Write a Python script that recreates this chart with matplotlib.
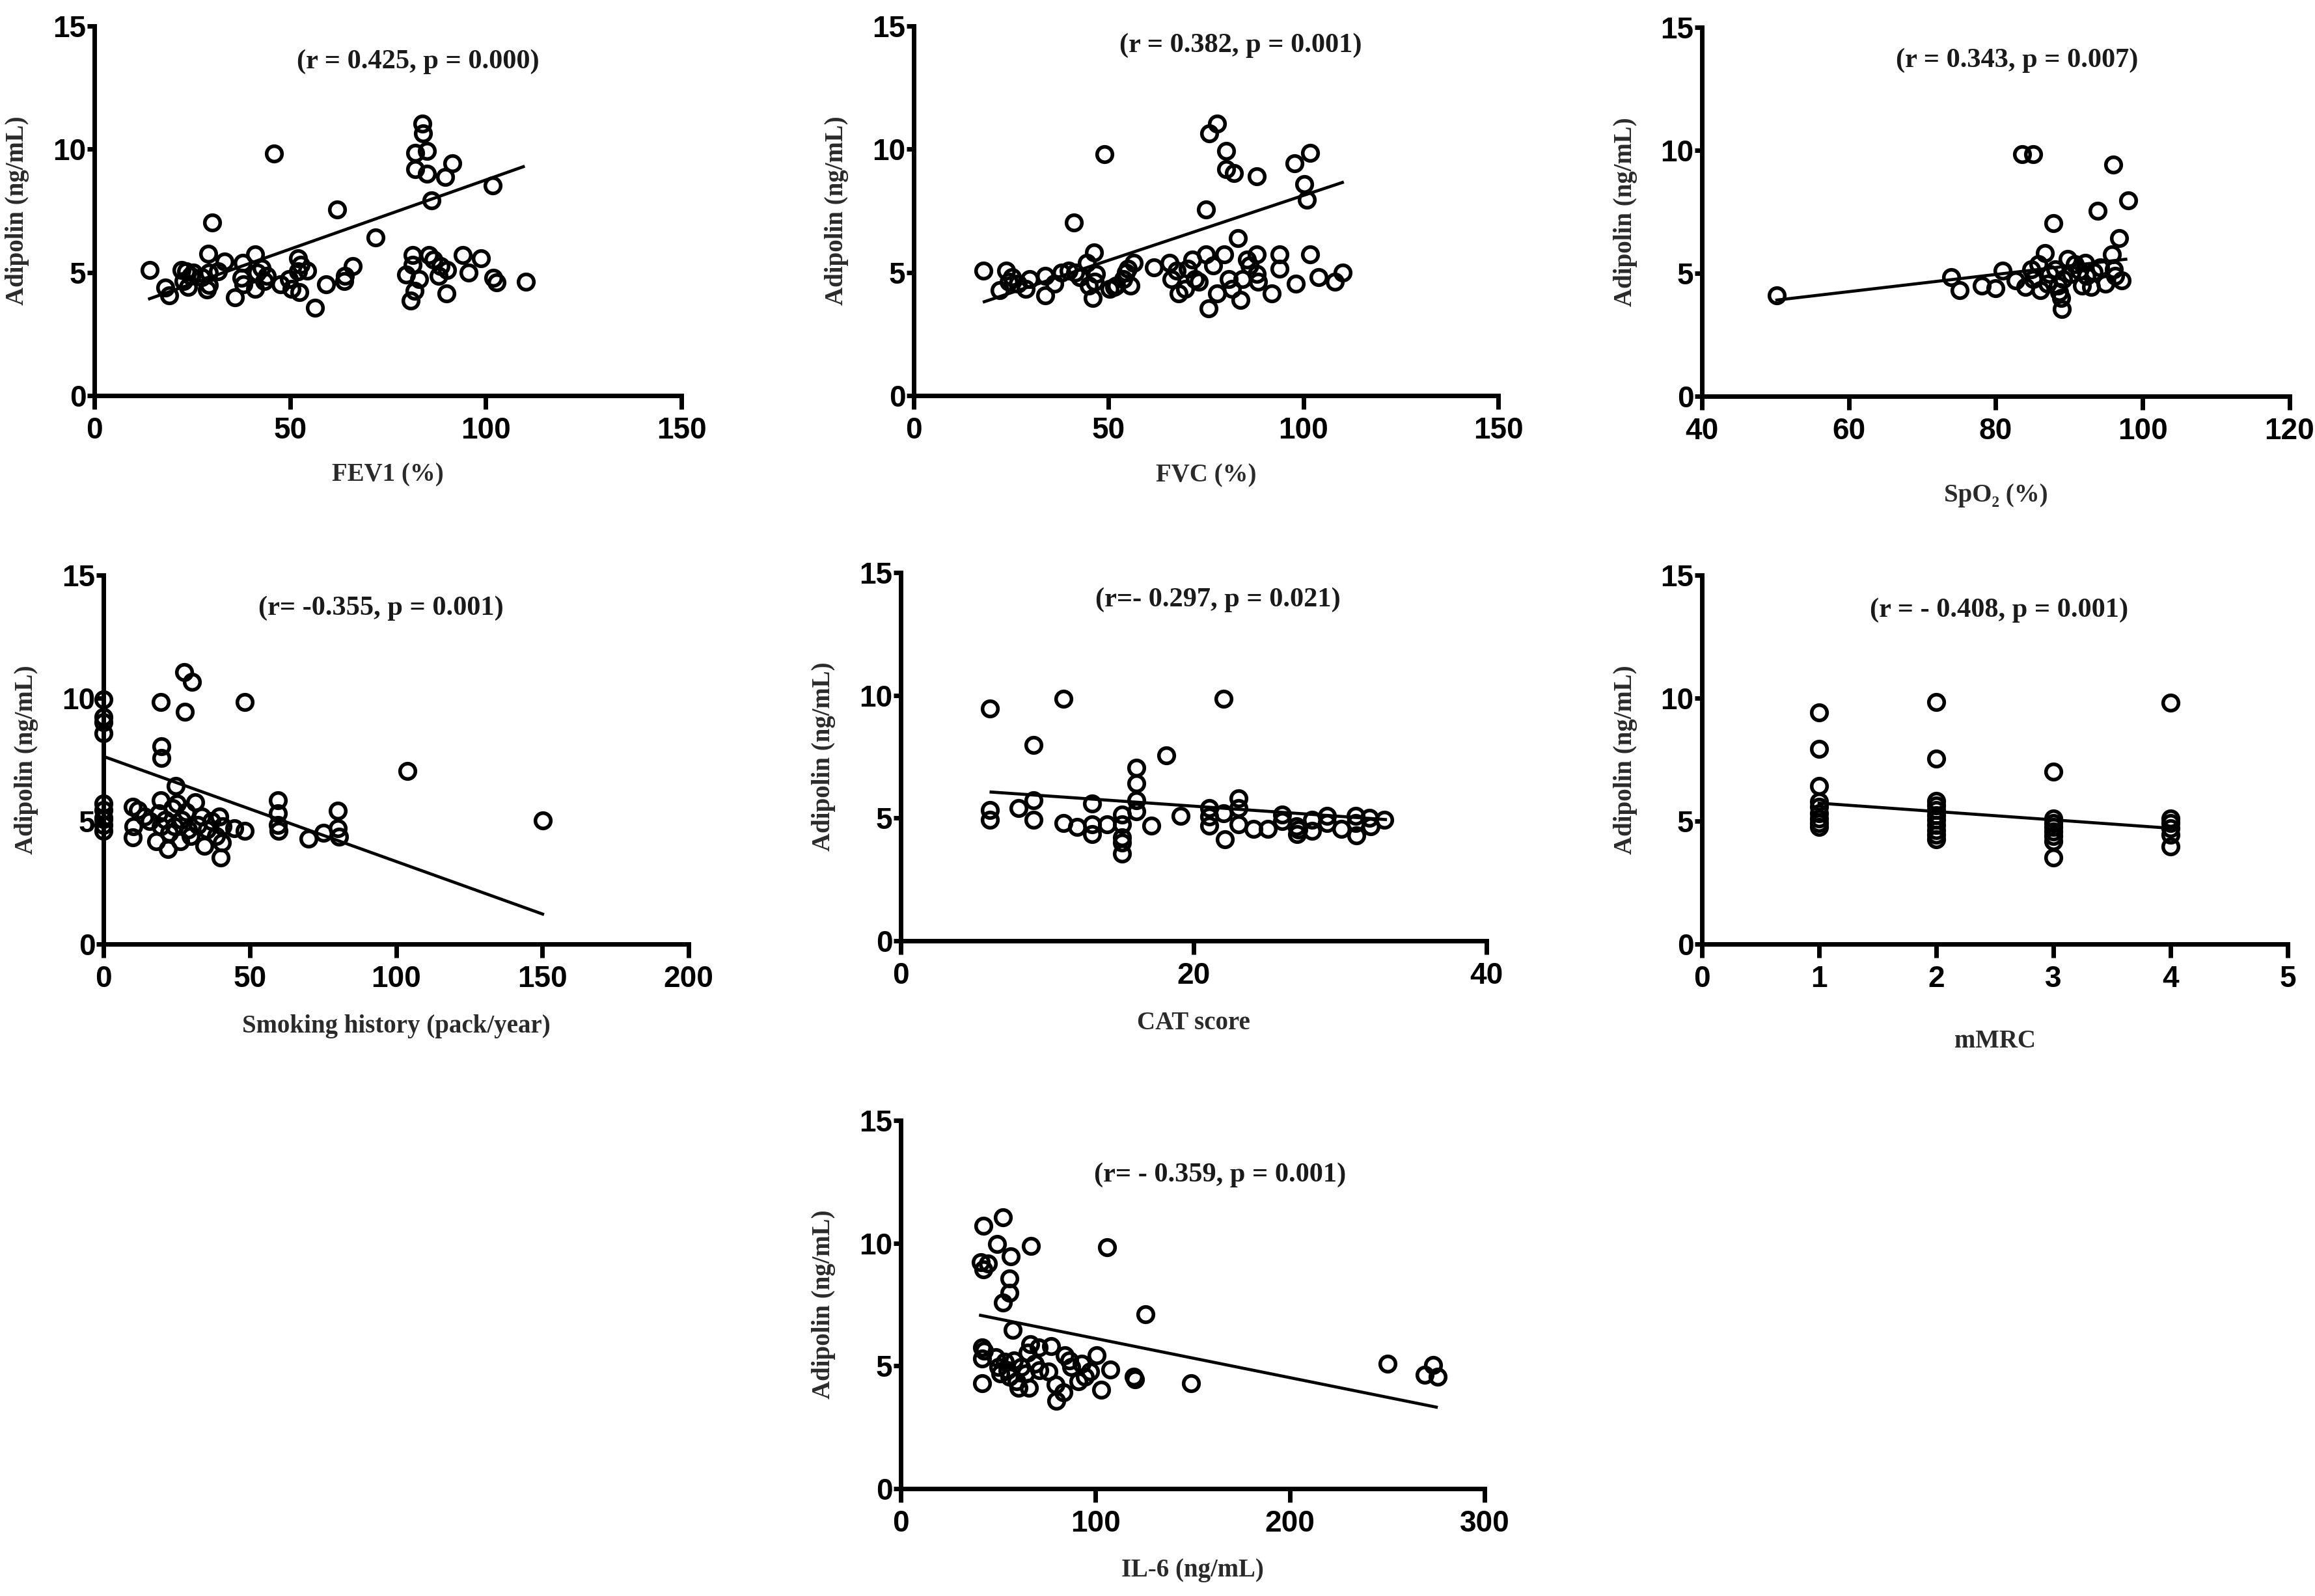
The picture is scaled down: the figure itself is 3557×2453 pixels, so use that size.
import matplotlib
matplotlib.use("Agg")
import matplotlib.pyplot as plt

# ---- data (x, adipolin ng/mL) ----
fev1_x = [14.1, 18.2, 19.1, 22.3, 23.4, 24.6, 24.0, 22.8, 25.2, 27.5, 28.7, 29.3, 29.3, 29.1, 30.1,
          31.6, 33.2, 36.0, 37.9, 37.5, 38.1, 41.0, 41.0, 41.6, 42.8, 43.4, 44.0, 45.9, 47.5, 49.8,
          50.4, 52.1, 52.1, 52.4, 52.7, 54.3, 56.4, 59.2, 62.1, 63.9, 64.1, 66.0, 71.8, 79.7, 80.9,
          81.4, 81.4, 81.8, 82.0, 82.0, 82.9, 83.8, 84.0, 85.0, 85.0, 85.5, 86.1, 86.7, 88.0, 88.5,
          89.6, 89.9, 90.2, 91.4, 94.1, 95.7, 98.8, 101.7, 102.0, 102.8, 110.2]
fev1_y = [5.11, 4.39, 4.06, 5.10, 5.05, 4.85, 4.40, 4.65, 5.00, 4.80, 4.30, 4.50, 5.00, 5.77, 7.03,
          5.05, 5.45, 4.00, 5.38, 4.78, 4.52, 5.73, 4.32, 4.98, 5.18, 4.65, 4.85, 9.82, 4.52, 4.72,
          4.32, 5.58, 5.05, 4.19, 5.31, 5.07, 3.56, 4.52, 7.55, 4.65, 4.85, 5.25, 6.43, 4.92, 3.86,
          5.71, 5.31, 4.26, 9.86, 9.20, 4.72, 11.04, 10.65, 9.92, 9.00, 5.71, 7.92, 5.51, 4.85, 5.25,
          8.87, 4.15, 5.11, 9.44, 5.71, 4.98, 5.58, 8.54, 4.78, 4.59, 4.63]
fev1_fit = ([14.1, 109.6], [3.93, 9.29])

fvc_x = [17.9, 22.0, 23.8, 24.4, 25.2, 26.7, 28.7, 29.7, 33.8, 33.8, 36.1, 37.9, 39.7, 41.1, 41.4,
         42.6, 44.4, 45.0, 45.9, 46.2, 46.4, 46.7, 48.9, 50.3, 51.5, 52.0, 53.8, 54.4, 55.0, 55.6,
         56.4, 61.7, 65.6, 66.2, 67.4, 68.0, 69.7, 70.3, 71.5, 72.1, 73.2, 75.0, 75.0, 75.6, 75.8,
         77.9, 76.8, 77.9, 79.7, 80.1, 80.1, 80.9, 81.7, 82.1, 83.2, 83.8, 84.4, 85.6, 86.2, 88.0,
         88.0, 88.0, 88.3, 91.8, 93.8, 93.8, 97.7, 98.0, 100.3, 100.9, 101.7, 101.7, 103.9, 108.0, 110.0]
fvc_y = [5.07, 4.28, 5.07, 4.61, 4.81, 4.54, 4.34, 4.74, 4.87, 4.08, 4.54, 5.00, 5.07, 7.02, 5.00,
         4.81, 5.40, 4.47, 3.95, 5.80, 4.61, 4.94, 9.80, 4.34, 4.41, 4.47, 4.74, 5.00, 5.14, 4.47,
         5.38, 5.20, 5.40, 4.74, 5.07, 4.14, 4.34, 5.14, 5.53, 4.74, 4.61, 5.73, 7.55, 3.55, 10.63,
         11.03, 5.27, 4.14, 5.73, 9.93, 9.18, 4.74, 4.34, 9.04, 6.39, 3.88, 4.74, 5.53, 5.27, 8.91,
         5.73, 4.94, 4.61, 4.14, 5.73, 5.14, 9.44, 4.54, 8.58, 7.94, 9.84, 5.73, 4.81, 4.61, 4.98]
fvc_fit = ([18.1, 110.0], [3.81, 8.65])

spo2_x = [50.2, 73.9, 75.1, 78.1, 80.0, 80.9, 82.7, 83.6, 85.1, 84.0, 84.8, 85.1, 85.8, 86.1, 86.7,
          87.0, 87.3, 87.8, 88.1, 88.5, 88.6, 88.9, 89.0, 89.2, 89.8, 90.2, 90.8, 91.4, 91.7, 92.2,
          92.4, 93.0, 93.3, 93.9, 94.2, 94.9, 95.8, 96.0, 96.1, 96.3, 96.8, 97.1, 98.0]
spo2_y = [4.11, 4.84, 4.31, 4.50, 4.40, 5.10, 4.70, 9.83, 9.83, 4.44, 5.17, 4.77, 5.37, 4.31, 5.83,
          4.57, 4.97, 7.05, 5.17, 4.50, 4.24, 4.00, 3.55, 4.77, 5.57, 4.97, 5.37, 5.10, 4.50, 5.43,
          4.90, 4.44, 5.04, 7.55, 5.23, 4.57, 5.76, 9.43, 5.17, 4.90, 6.43, 4.70, 7.95]
spo2_fit = ([50.2, 97.7], [3.91, 5.57])

smoke_x = [0, 0, 0, 0, 0, 0, 0, 0, 0, 0, 9.9, 10.2, 9.9, 11.8, 14.1, 15.7, 18.0, 18.8, 19.6, 19.6,
           19.6, 19.9, 19.9, 21.2, 22.0, 22.4, 23.5, 24.3, 24.6, 25.1, 26.2, 26.7, 27.5, 27.8, 30.3,
           28.2, 29.0, 29.8, 31.4, 32.2, 33.7, 34.5, 35.3, 36.9, 38.4, 39.7, 40.0, 40.5, 40.8, 44.7,
           48.2, 48.2, 59.6, 59.6, 59.6, 59.9, 70.1, 75.3, 80.0, 80.0, 80.5, 104.0, 150.1]
smoke_y = [9.95, 9.22, 9.02, 8.56, 5.71, 5.45, 5.12, 4.85, 4.59, 5.08, 5.58, 4.79, 4.33, 5.45, 5.19,
           4.99, 4.19, 5.32, 5.85, 4.79, 9.84, 8.03, 7.57, 5.05, 3.86, 4.52, 5.52, 4.79, 6.44, 5.71,
           4.19, 5.05, 11.07, 9.44, 10.67, 5.38, 4.66, 4.39, 5.78, 4.85, 5.19, 3.99, 4.66, 4.99, 4.39,
           5.19, 3.53, 4.13, 4.79, 4.72, 9.84, 4.59, 5.85, 5.32, 4.85, 4.59, 4.29, 4.52, 5.42, 4.72,
           4.37, 7.04, 5.03]
smoke_fit = ([0, 150.1], [7.63, 1.22])

cat_x = [6.08, 6.08, 6.08, 8.05, 9.08, 9.08, 9.08, 11.09, 11.09, 12.03, 13.06, 13.06, 13.06, 14.1,
         15.1, 15.1, 15.1, 15.1, 15.1, 16.1, 16.1, 16.1, 16.1, 17.13, 18.13, 19.1, 21.05, 21.05,
         21.05, 22.05, 22.05, 22.14, 23.08, 23.08, 23.08, 24.1, 25.05, 26.06, 26.06, 27.0, 27.06,
         27.15, 28.1, 28.1, 29.1, 29.1, 30.1, 31.07, 31.07, 31.1, 32.0, 32.07, 33.0]
cat_y = [9.47, 5.34, 4.94, 5.40, 7.98, 5.73, 4.94, 9.86, 4.81, 4.65, 5.60, 4.74, 4.34, 4.74,
         5.14, 4.74, 4.21, 4.01, 3.55, 7.06, 6.42, 5.73, 5.27, 4.70, 7.56, 5.10, 5.40, 5.07,
         4.70, 9.86, 5.20, 4.14, 5.80, 5.40, 4.74, 4.57, 4.57, 5.14, 4.87, 4.67, 4.34,
         4.54, 4.94, 4.47, 5.10, 4.81, 4.57, 5.10, 4.81, 4.30, 5.00, 4.67, 4.94]
cat_fit = ([6.17, 33.1], [6.06, 4.94])

mmrc_x = [1] * 9 + [2] * 11 + [3] * 8 + [4] * 6
mmrc_y = [9.42, 7.94, 6.42, 5.79, 5.57, 5.33, 5.11, 4.91, 4.75,
          9.85, 7.55, 5.83, 5.63, 5.44, 5.24, 5.04, 4.84, 4.64, 4.45, 4.27,
          7.02, 5.11, 4.91, 4.75, 4.58, 4.38, 4.18, 3.52,
          9.82, 5.11, 4.91, 4.71, 4.45, 3.98]
mmrc_fit = ([1, 4], [5.73, 4.71])

il6_x = [42.5, 52.4, 49.5, 67.0, 106.1, 41.3, 42.5, 44.8, 56.6, 55.9, 55.9, 52.4, 57.5, 125.9,
         41.7, 42.9, 41.7, 41.7, 48.8, 50.0, 51.2, 53.5, 54.7, 55.9, 58.3, 59.4, 60.6, 61.8, 64.2,
         65.3, 66.5, 66.0, 68.9, 70.8, 71.2, 77.1, 75.9, 79.5, 80.0, 83.5, 84.2, 86.6, 87.7, 91.3,
         92.9, 94.8, 97.2, 100.7, 103.1, 107.8, 119.6, 120.3, 149.1, 250.0, 269.3, 273.6, 275.9]
il6_y = [10.71, 11.06, 9.97, 9.88, 9.84, 9.23, 8.92, 9.16, 9.45, 8.57, 7.98, 7.59, 6.47, 7.09,
         5.75, 5.62, 5.29, 4.30, 5.35, 4.96, 4.70, 5.16, 4.83, 4.57, 5.22, 4.37, 4.11, 4.96, 4.70,
         5.55, 5.88, 4.11, 5.09, 5.75, 4.83, 5.81, 4.76, 4.24, 3.58, 3.91, 5.42, 5.22, 4.96, 4.37,
         5.09, 4.57, 4.76, 5.42, 4.04, 4.86, 4.57, 4.46, 4.30, 5.09, 4.63, 5.03, 4.57]
il6_fit = ([41.0, 275.2], [7.06, 3.32])

panels = [
    # x, y, fit, xlim, xticks, xlabel, note, rect (px), note pos, xlabel offset px
    (fev1_x, fev1_y, fev1_fit, (0, 150), [0, 50, 100, 150], "FEV1 (%)",
     "(r = 0.425, p = 0.000)", (145, 40, 902, 568), (0.551, 0.903), 122),
    (fvc_x, fvc_y, fvc_fit, (0, 150), [0, 50, 100, 150], "FVC (%)",
     "(r = 0.382, p = 0.001)", (1404, 40, 898, 568), (0.559, 0.947), 123),
    (spo2_x, spo2_y, spo2_fit, (40, 120), [40, 60, 80, 100, 120], "SpO\u2082 (%)",
     "(r = 0.343, p = 0.007)", (2615, 42, 903, 567), (0.536, 0.910), 152),
    (smoke_x, smoke_y, smoke_fit, (0, 200), [0, 50, 100, 150, 200], "Smoking history (pack/year)",
     "(r= -0.355, p = 0.001)", (159, 884, 899, 567), (0.474, 0.910), 126),
    (cat_x, cat_y, cat_fit, (0, 40), [0, 20, 40], "CAT score",
     "(r=- 0.297, p = 0.021)", (1384, 880, 900, 566), (0.542, 0.926), 126),
    (mmrc_x, mmrc_y, mmrc_fit, (0, 5), [0, 1, 2, 3, 4, 5], "mMRC",
     "(r = - 0.408, p = 0.001)", (2615, 884, 900, 567), (0.507, 0.906), 149),
    (il6_x, il6_y, il6_fit, (0, 300), [0, 100, 200, 300], "IL-6 (ng/mL)",
     "(r= - 0.359, p = 0.001)", (1384, 1722, 897, 566), (0.547, 0.852), 125),
]

W, H = 3557, 2453
fig = plt.figure(figsize=(W / 100, H / 100), dpi=100)

serif = ["Liberation Serif", "DejaVu Serif"]
narrow = ["Liberation Sans Narrow", "Liberation Sans", "DejaVu Sans"]

for x, y, fit, xlim, xticks, xlabel, note, rect, npos, xoff in panels:
    left, top, w, h = rect
    ax = fig.add_axes([left / W, 1 - (top + h) / H, w / W, h / H])
    ax.plot(x, y, "o", ms=17, mfc="none", mec="black", mew=4, clip_on=False, zorder=3)
    ax.plot(fit[0], fit[1], "-", color="black", lw=3.4, zorder=2)
    ax.set_xlim(*xlim)
    ax.set_ylim(0, 15)
    ax.set_xticks(xticks)
    ax.set_yticks([0, 5, 10, 15])
    for s in ["top", "right"]:
        ax.spines[s].set_visible(False)
    for s in ["left", "bottom"]:
        ax.spines[s].set_linewidth(5)
    ax.tick_params(axis="x", length=15, width=5, pad=8)
    ax.tick_params(axis="y", length=8, width=5, pad=1)
    for lab in ax.get_xticklabels() + ax.get_yticklabels():
        lab.set_family(narrow)
        lab.set_fontweight("bold")
        lab.set_fontsize(33)
    ax.set_xlabel(xlabel, family=serif, fontweight="bold", fontsize=28, color="#2a2a2a", va="center")
    ax.xaxis.set_label_coords(0.5, -xoff / h)
    ax.set_ylabel("Adipolin (ng/mL)", family=serif, fontweight="bold", fontsize=28,
                  color="#2a2a2a", va="center")
    ax.yaxis.set_label_coords(-118 / w, 0.5)
    ax.text(npos[0], npos[1], note, transform=ax.transAxes, ha="center", va="center",
            family=serif, fontweight="bold", fontsize=30.5, color="#1a1a1a")

fig.savefig("out.png", dpi=100, facecolor="white")
